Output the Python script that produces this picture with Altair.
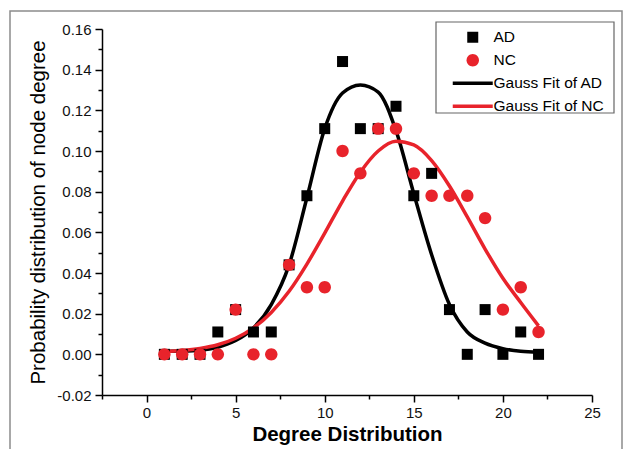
import altair as alt
import pandas as pd

# ---- data ----
degree = list(range(1, 23))
ad_prob = [0.0, 0.0, 0.0, 0.011, 0.022, 0.011, 0.011, 0.044, 0.078, 0.111, 0.144, 0.111,
           0.111, 0.122, 0.078, 0.089, 0.022, 0.0, 0.022, 0.0, 0.011, 0.0]
nc_prob = [0.0, 0.0, 0.0, 0.0, 0.022, 0.0, 0.0, 0.044, 0.033, 0.033, 0.100, 0.089,
           0.111, 0.111, 0.089, 0.078, 0.078, 0.078, 0.067, 0.022, 0.033, 0.011]

fit_x = list(range(1, 23))
fit_ad = [0.0015, 0.0016, 0.002, 0.0035, 0.0068, 0.013, 0.0245, 0.044, 0.077, 0.111, 0.1285,
          0.1325, 0.129, 0.110, 0.079, 0.049, 0.0245, 0.011, 0.0055, 0.0028, 0.0015, 0.001]
fit_nc = [0.0014, 0.0019, 0.0029, 0.0047, 0.0079, 0.013, 0.0206, 0.031, 0.0444, 0.0596, 0.0754,
          0.0896, 0.100, 0.1048, 0.103, 0.0953, 0.0828, 0.0676, 0.0518, 0.0374, 0.0255, 0.014]

series_names = ["AD", "NC", "Gauss Fit of AD", "Gauss Fit of NC"]
series_colors = ["#000000", "#e8232b", "#000000", "#e8232b"]

# symbol paths (unit box scaled by sqrt(size)/2 = 5 px per unit)
SQUARE = "M-1.1,-1.1H1.1V1.1H-1.1Z"
CIRCLE = "M-1.24,0A1.24,1.24 0 1,0 1.24,0A1.24,1.24 0 1,0 -1.24,0Z"
LINE = "M-4,-0.35H4V0.35H-4Z"
series_shapes = [SQUARE, CIRCLE, LINE, LINE]
SYMBOL_SIZE = 100

x_ticks = [-2.5, 0, 2.5, 5, 7.5, 10, 12.5, 15, 17.5, 20, 22.5, 25]
y_ticks = [-0.02, -0.01, 0.0, 0.01, 0.02, 0.03, 0.04, 0.05, 0.06, 0.07, 0.08,
           0.09, 0.1, 0.11, 0.12, 0.13, 0.14, 0.15, 0.16]

points = pd.DataFrame({
    "deg": degree + degree,
    "prob": ad_prob + nc_prob,
    "series": ["AD"] * len(degree) + ["NC"] * len(degree),
})
fit_ad_df = pd.DataFrame({"deg": fit_x, "prob": fit_ad})
fit_nc_df = pd.DataFrame({"deg": fit_x, "prob": fit_nc})

FONT = "Liberation Sans"

x_enc = alt.X(
    "deg:Q",
    scale=alt.Scale(domain=[-2.5, 25], nice=False, zero=False),
    axis=alt.Axis(
        title="Degree Distribution",
        values=x_ticks,
        labelExpr="datum.value % 5 == 0 ? format(datum.value, 'd') : ''",
        tickSize={"condition": {"test": "datum.value % 5 == 0", "value": 7}, "value": 4},
        labelFlush=False,
        labelOverlap=False,
        titleFontWeight="bold",
        titleFontSize=20.5,
        titlePadding=4,
        labelPadding=3,
    ),
)
y_enc = alt.Y(
    "prob:Q",
    scale=alt.Scale(domain=[-0.02, 0.16], nice=False, zero=False),
    axis=alt.Axis(
        title="Probability distribution of node degree",
        values=y_ticks,
        labelExpr="abs(round(datum.value*100)) % 2 == 0 ? (datum.value < -0.001 ? '-' + format(-datum.value, '.2f') : format(abs(datum.value), '.2f')) : ''",
        tickSize={"condition": {"test": "abs(round(datum.value*100)) % 2 == 0", "value": 7}, "value": 4},
        labelFlush=False,
        labelOverlap=False,
        titleFontWeight="normal",
        titleFontSize=20.5,
        titlePadding=8,
        labelPadding=4,
    ),
)

line_ad = alt.Chart(fit_ad_df).mark_line(
    color="#000000", strokeWidth=3.5, interpolate="monotone"
).encode(x=x_enc, y=y_enc)
line_nc = alt.Chart(fit_nc_df).mark_line(
    color="#e8232b", strokeWidth=3.5, interpolate="monotone"
).encode(x=x_enc, y=y_enc)

scatter = alt.Chart(points).mark_point(
    filled=True, opacity=1, strokeWidth=0, size=SYMBOL_SIZE
).encode(
    x=x_enc,
    y=y_enc,
    color=alt.Color(
        "series:N",
        scale=alt.Scale(domain=series_names, range=series_colors),
        legend=alt.Legend(
            title=None,
            orient="none",
            legendX=363,
            legendY=0.5,
            padding=0,
            labelFont=FONT,
            labelFontSize=15.5,
            labelColor="#000000",
            labelOffset=13,
            rowPadding=6,
            symbolSize=SYMBOL_SIZE,
            symbolStrokeWidth=0,
            symbolOpacity=1,
        ),
    ),
    shape=alt.Shape("series:N", scale=alt.Scale(domain=series_names, range=series_shapes)),
    order=alt.Order("series:N"),
)

# decorative frames (outer picture border and legend box)
frame = alt.Chart(alt.Data(values=[{}])).mark_rect(
    filled=False, stroke="#8c8c8c", strokeWidth=1.5, clip=False
).encode(
    x=alt.value(-92), x2=alt.value(520), y=alt.value(-18), y2=alt.value(430)
)
legend_box = alt.Chart(alt.Data(values=[{}])).mark_rect(
    fill="white", stroke="#666666", strokeWidth=1.2, clip=False
).encode(
    x=alt.value(334), x2=alt.value(512), y=alt.value(-7), y2=alt.value(84)
)

chart = alt.layer(frame, line_ad, line_nc, scatter, legend_box).properties(
    width=490,
    height=366,
    autosize=alt.AutoSizeParams(type="none"),
    padding={"left": 102, "top": 29, "right": 37, "bottom": 54},
    background="white",
).configure_view(stroke=None).configure_axis(
    grid=False,
    domainColor="#000000",
    domainWidth=1.5,
    tickColor="#000000",
    tickWidth=1.5,
    labelFont=FONT,
    labelFontSize=15,
    labelColor="#111111",
    titleFont=FONT,
    titleColor="#000000",
)

chart.save("out.html", embed_options={"renderer": "svg", "actions": False})
